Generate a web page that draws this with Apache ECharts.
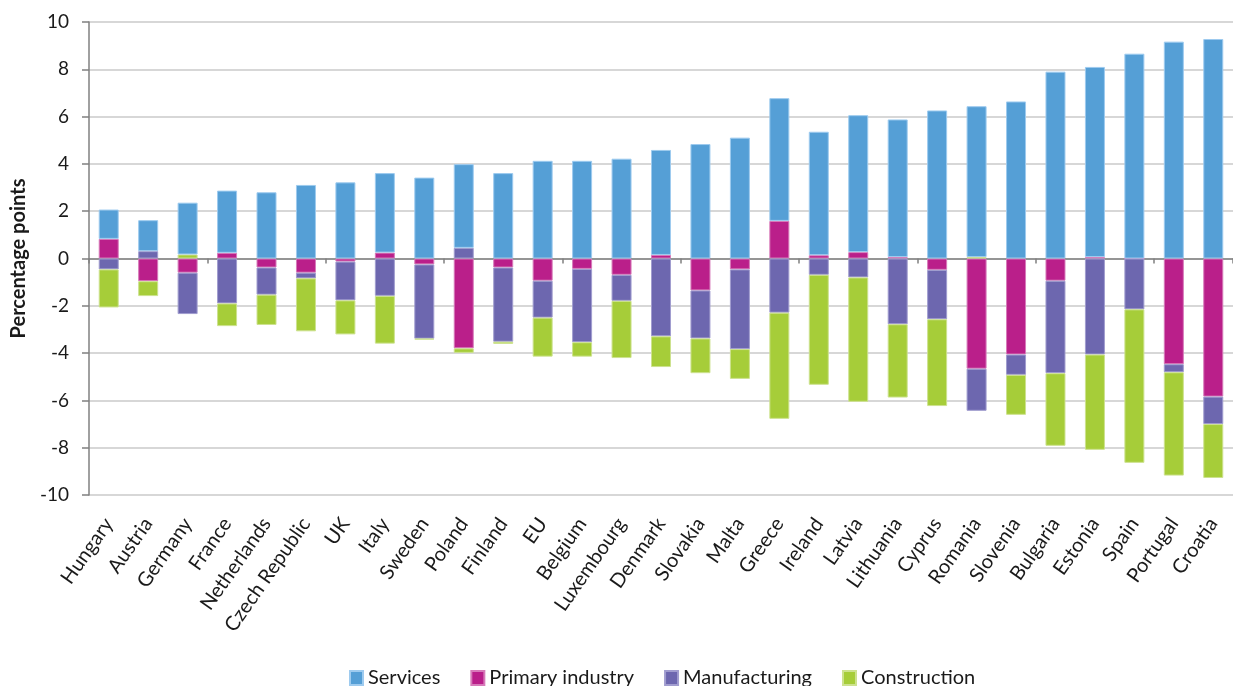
<!DOCTYPE html>
<html>
<head>
<meta charset="utf-8">
<script src="https://cdn.jsdelivr.net/npm/echarts@6/dist/echarts.min.js"></script>
<style>
html,body{margin:0;padding:0;background:#fff;}
#chart{width:1233px;height:686px;}
</style>
</head>
<body>
<div id="chart"></div>
<script>
const categories = ['Hungary','Austria','Germany','France','Netherlands','Czech Republic','UK','Italy','Sweden','Poland','Finland','EU','Belgium','Luxembourg','Denmark','Slovakia','Malta','Greece','Ireland','Latvia','Lithuania','Cyprus','Romania','Slovenia','Bulgaria','Estonia','Spain','Portugal','Croatia'];
const services = [1.24,1.31,2.19,2.63,2.80,3.11,3.22,3.36,3.42,3.54,3.61,4.13,4.13,4.22,4.44,4.84,5.11,5.19,5.22,5.79,5.82,6.26,6.38,6.64,7.90,8.04,8.66,9.17,9.28];
const primaryIndustry = [0.83,-0.96,-0.60,0.24,-0.38,-0.60,-0.13,0.25,-0.25,-3.80,-0.38,-0.94,-0.44,-0.69,0.15,-1.35,-0.46,1.59,0.14,0.27,0.06,-0.48,-4.66,-4.06,-0.94,0.06,0,-4.47,-5.84];
const manufacturing = [-0.46,0.31,-1.75,-1.90,-1.15,-0.24,-1.64,-1.58,-3.14,0.45,-3.14,-1.56,-3.10,-1.10,-3.29,-2.03,-3.37,-2.29,-0.69,-0.80,-2.78,-2.09,-1.78,-0.86,-3.91,-4.06,-2.15,-0.34,-1.16];
const construction = [-1.61,-0.63,0.17,-0.96,-1.28,-2.24,-1.44,-2.02,-0.04,-0.19,-0.09,-1.65,-0.61,-2.42,-1.30,-1.47,-1.26,-4.49,-4.65,-5.26,-3.10,-3.67,0.06,-1.69,-3.07,-4.03,-6.49,-4.37,-2.28];
const legendOrder = ['Services','Primary industry','Manufacturing','Construction'];

const FONT = 'Lato';
const chart = echarts.init(document.getElementById('chart'), null, {renderer:'canvas'});
function barSeries(name, data, color, border){
  return {
    name: name, type: 'bar', stack: 'total', data: data, barWidth: 20,
    itemStyle: {color: color, borderColor: border, borderWidth: 1},
    emphasis: {disabled: true}
  };
}
chart.setOption({
  animation: false,
  textStyle: {fontFamily: FONT},
  grid: {left: 89, right: -11, top: 22, bottom: 191, containLabel: false},
  legend: {
    data: legendOrder, left: 344, top: 663, itemWidth: 13, itemHeight: 14, itemGap: 30,
    icon: 'rect',
    textStyle: {fontFamily: FONT, fontSize: 20, color: '#1a1a1a'}
  },
  xAxis: [{
    type: 'category', data: categories,
    axisLine: {show: false, onZero: false},
    axisTick: {show: false},
    axisLabel: {rotate: 55, margin: 25, interval: 0, fontFamily: FONT, fontSize: 20, color: '#1a1a1a'},
    splitLine: {show: false}
  },{
    type: 'category', data: categories, position: 'bottom',
    axisLine: {show: true, onZero: true, onZeroAxisIndex: 0, lineStyle: {color: '#808080', width: 1.5}},
    axisTick: {show: true, length: 5, lineStyle: {color: '#808080', width: 1.5}},
    axisLabel: {show: false},
    splitLine: {show: false}
  }],
  yAxis: {
    type: 'value', min: -10, max: 10, interval: 2,
    name: 'Percentage points', nameLocation: 'middle', nameGap: 54,
    nameTextStyle: {fontFamily: FONT, fontSize: 20, fontWeight: 'bold', color: '#1a1a1a'},
    axisLine: {show: true, lineStyle: {color: '#808080', width: 1.5}},
    axisTick: {show: true, length: 7, lineStyle: {color: '#808080', width: 1.5}},
    axisLabel: {margin: 20, fontFamily: FONT, fontSize: 19, color: '#1a1a1a'},
    splitLine: {show: true, lineStyle: {color: '#cacaca', width: 1.5}}
  },
  series: [
    barSeries('Primary industry', primaryIndustry, '#BA1F8A', '#d77ab9'),
    barSeries('Manufacturing', manufacturing, '#6D67AF', '#a19dcf'),
    barSeries('Construction', construction, '#A6CD39', '#cde28f'),
    barSeries('Services', services, '#559FD6', '#9ecbef')
  ]
});
</script>
</body>
</html>
